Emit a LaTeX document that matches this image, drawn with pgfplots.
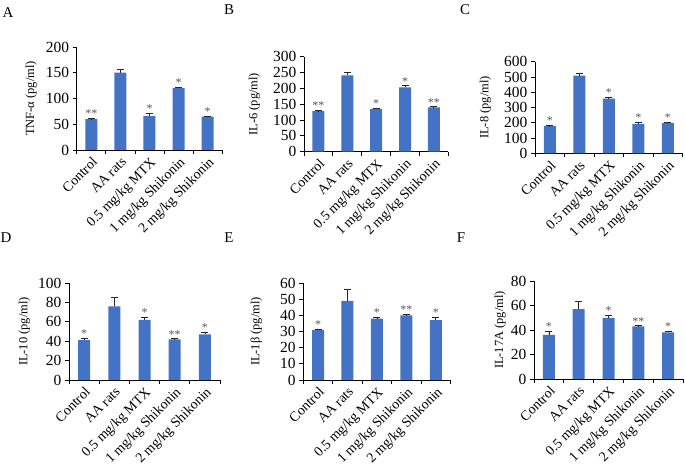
\documentclass[border=0pt]{standalone}
\usepackage{fontspec}
\setmainfont{Liberation Serif}
\usepackage{pgfplots}
\usepackage{pgfplotstable}
\pgfplotsset{compat=1.18}
\definecolor{barblue}{RGB}{68,114,196}
\definecolor{stargray}{RGB}{85,85,85}

% x y err
\pgfplotstableread{
x y e
0 60 1
1 150 6
2 66 5
3 120 2
4 65 1
}\dataA
\pgfplotstableread{
x y e
0 128 2
1 241 9
2 135 3
3 203 5
4 140 2
}\dataB
\pgfplotstableread{
x y e
0 178 3
1 508 15
2 358 10
3 193 12
4 198 6
}\dataC
\pgfplotstableread{
x y e
0 41 2
1 76 9
2 62 3
3 42 0.5
4 47 2
}\dataD
\pgfplotstableread{
x y e
0 31 0.5
1 49 7
2 38 1
3 40 0.5
4 37 2
}\dataE
\pgfplotstableread{
x y e
0 36 3
1 57 6
2 50 2
3 43 0.5
4 38 1
}\dataF

\pgfplotsset{panel/.style={
  scale only axis, anchor=south west, clip=false,
  axis x line*=bottom, axis y line*=left,
  axis line style={black, line width=0.8bp},
  xmin=-0.5, xmax=4.5, ymin=0,
  xtick={0,...,4},
  xticklabels={Control, AA rats, 0.5 mg/kg MTX, 1 mg/kg Shikonin, 2 mg/kg Shikonin},
  minor xtick={-0.5,0.5,1.5,2.5,3.5,4.5},
  major x tick style={draw=none},
  tick align=outside, tick style={black, line width=0.8bp},
  major tick length=4bp, minor tick length=4bp,
  x tick label style={rotate=45, anchor=north east, inner sep=1.5bp, font=\fontsize{14}{15}\selectfont},
  y tick label style={font=\fontsize{15.5}{16}\selectfont, inner sep=3.5bp},
  ylabel style={font=\fontsize{12.5}{14}\selectfont},
  /pgf/number format/assume math mode=true,
  /pgf/number format/1000 sep={},
}}
\pgfplotsset{
  bars/.style={ybar, bar width=12bp, fill=barblue, draw=none,
    error bars/.cd, y dir=plus, y explicit,
    error bar style={black!85, line width=0.8bp},
    error mark options={rotate=90, black!85, line width=0.8bp, mark size=3.5bp}},
  stars/.style={draw=none, mark=none, nodes near coords, point meta=explicit symbolic,
    nodes near coords style={anchor=south, inner sep=0.5bp, text=stargray, font=\fontsize{12}{12}\selectfont}},
}

\begin{document}
\begin{tikzpicture}
\useasboundingbox (0,0) rectangle (685bp,467bp);

\begin{axis}[panel, at={(76.7bp,317bp)}, width=145.6bp, height=103bp,
  ymax=200, ytick={0,50,...,200}, ylabel={TNF-α (pg/ml)}, ylabel shift=2bp]
\addplot[bars] table[x=x, y=y, y error=e] {\dataA};
\addplot[stars] coordinates {(0,61)[**] (2,71)[*] (3,122)[*] (4,66)[*]};
\end{axis}

\begin{axis}[panel, at={(304bp,315.3bp)}, width=144.3bp, height=95bp,
  ymax=300, ytick={0,50,...,300}, ylabel={IL-6 (pg/ml)}, ylabel shift=6bp]
\addplot[bars] table[x=x, y=y, y error=e] {\dataB};
\addplot[stars] coordinates {(0,130)[**] (2,138)[*] (3,208)[*] (4,142)[**]};
\end{axis}

\begin{axis}[panel, at={(535bp,313.7bp)}, width=147.7bp, height=91.6bp,
  ymax=600, ytick={0,100,...,600}, ylabel={IL-8 (pg/ml)}, ylabel shift=6bp]
\addplot[bars] table[x=x, y=y, y error=e] {\dataC};
\addplot[stars] coordinates {(0,181)[*] (2,368)[*] (3,205)[*] (4,204)[*]};
\end{axis}

\begin{axis}[panel, at={(69bp,87bp)}, width=151bp, height=97bp,
  ymax=100, ytick={0,20,...,100}, ylabel={IL-10 (pg/ml)}, ylabel shift=1bp]
\addplot[bars] table[x=x, y=y, y error=e] {\dataD};
\addplot[stars] coordinates {(0,43)[*] (2,65)[*] (3,42.5)[**] (4,49)[*]};
\end{axis}

\begin{axis}[panel, at={(303.3bp,87bp)}, width=147.3bp, height=97bp,
  ymax=60, ytick={0,10,...,60}, ylabel={IL-1β (pg/ml)}, ylabel shift=11bp]
\addplot[bars] table[x=x, y=y, y error=e] {\dataE};
\addplot[stars] coordinates {(0,31.5)[*] (2,39)[*] (3,40.5)[**] (4,39)[*]};
\end{axis}

\begin{axis}[panel, at={(534bp,88bp)}, width=149bp, height=98bp,
  ymax=80, ytick={0,20,...,80}, ylabel={IL-17A (pg/ml)}, ylabel shift=-2bp]
\addplot[bars] table[x=x, y=y, y error=e] {\dataF};
\addplot[stars] coordinates {(0,39)[*] (2,52)[*] (3,43.5)[**] (4,39)[*]};
\end{axis}

\foreach \l/\px/\py in {A/8/13, B/229/10, C/465/10, D/6/238, E/229/238, F/461/238}
  \node[font=\fontsize{15}{16}\selectfont] at (\px bp, 467bp-\py bp) {\l};
\end{tikzpicture}
\end{document}
